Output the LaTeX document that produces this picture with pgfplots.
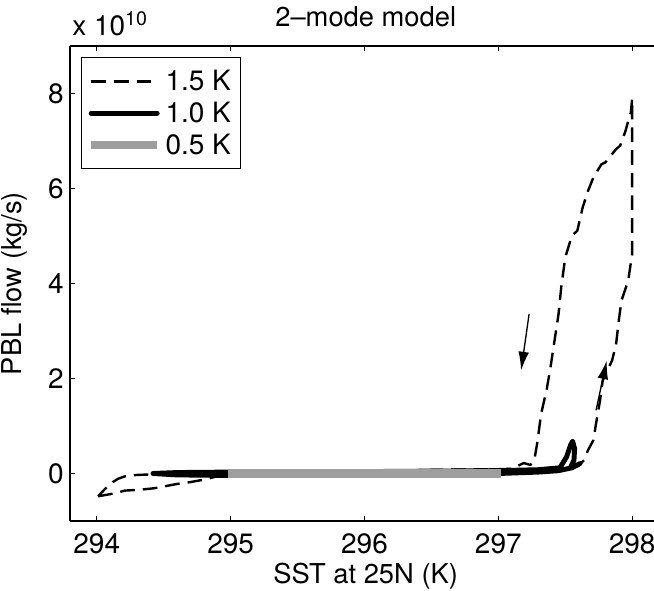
\documentclass[border=0pt]{standalone}
\usepackage{fontspec}
\setmainfont{TeX Gyre Heros}
\usepackage{pgfplots}
\pgfplotsset{compat=1.18}
\usetikzlibrary{arrows.meta}
\begin{document}
\begin{tikzpicture}
\begin{axis}[
  name=ax,
  width=438pt, height=356.25pt, scale only axis,
  xmin=293.8, xmax=298.163, ymin=-1, ymax=9,
  axis x line*=box, axis y line*=left,
  xtick={294,295,296,297,298},
  ytick={0,2,4,6,8},
  scaled ticks=false,
  tick align=inside,
  major tick length=4pt,
  axis line style={line width=0.8pt},
  every tick/.style={black, line width=0.8pt},
  /pgf/number format/assume math mode=true,
  /pgf/number format/1000 sep={},
  tick label style={font=\fontsize{21}{25}\selectfont},
  xticklabel style={anchor=base, inner sep=0pt, yshift=-24.4pt},
  yticklabel style={anchor=east, inner sep=0pt, xshift=-4.6pt},
  every axis y label/.style={at={(axis description cs:0,0.5)}, rotate=90, anchor=center, inner sep=0pt, yshift=41.5pt, font=\fontsize{20.5}{24}\selectfont},
  every axis x label/.style={at={(axis description cs:0.5,0)}, anchor=base, xshift=2.8pt, yshift=-46.5pt, font=\fontsize{20.5}{24}\selectfont},
  xlabel={SST at 25N (K)},
  ylabel={PBL flow (kg/s)},
  legend cell align=left,
  legend image code/.code={\draw[#1] (0pt,0pt) -- (49.5pt,0pt);},
  legend style={at={(axis description cs:0,1)}, anchor=north west, xshift=8.25pt, yshift=-8.25pt,
    draw=black, line width=0.8pt, font=\fontsize{21}{25}\selectfont,
    inner xsep=4pt, inner ysep=7.5pt, row sep=3pt,
    nodes={inner xsep=3pt}},
  clip=false,
]
% 1.5 K (dashed)
\addplot[black, line width=1.8pt, dash pattern=on 11pt off 6pt, line join=round] coordinates {
(294.01,-0.48) (294.13,-0.42) (294.21,-0.36) (294.33,-0.34) (294.43,-0.31) (294.60,-0.22) (294.68,-0.19)
(294.80,-0.13) (294.87,-0.08) (294.93,-0.04) (295.2,-0.02) (295.6,-0.01) (296.0,0.0) (296.5,0.01)
(297.0,0.03) (297.3,0.06) (297.5,0.10) (297.60,0.16) (297.64,0.28) (297.67,0.49) (297.71,0.70)
(297.73,1.05) (297.76,1.54) (297.78,1.96) (297.85,2.38) (297.88,2.73) (297.90,3.22) (297.92,3.64)
(297.97,4.06) (298.0,4.62) (298.0,5.6) (298.0,6.6) (298.0,7.4) (298.0,7.9)
(297.99,7.6) (297.97,7.42) (297.95,7.21) (297.91,6.90) (297.88,6.83) (297.82,6.62) (297.80,6.55)
(297.77,6.51) (297.71,6.23) (297.67,5.95) (297.63,5.60) (297.59,5.11) (297.55,5.01) (297.50,4.55)
(297.47,3.92) (297.45,3.36) (297.42,2.80) (297.39,2.24) (297.36,1.75) (297.32,1.26) (297.29,0.63)
(297.27,0.30) (297.24,0.18) (297.19,0.22) (297.1,0.10) (297.0,0.09) (296.6,0.08) (296.0,0.05)
(295.5,0.03) (295.0,0.02) (294.6,0.0) (294.3,-0.03) (294.21,-0.06) (294.16,-0.11) (294.12,-0.18)
(294.06,-0.33) (294.01,-0.48)
};
\addlegendentry{1.5 K}
% 1.0 K (thick solid)
\addplot[black, line width=3.7pt, line join=round, line cap=round] coordinates {
(297.61,0.21) (297.55,0.12) (297.45,0.06) (297.3,0.03) (297.0,0.0) (296.0,-0.02) (295.0,-0.04)
(294.6,-0.03) (294.42,0.0) (294.6,0.02) (295.0,0.03) (296.0,0.04) (297.0,0.06) (297.3,0.08)
(297.46,0.12) (297.51,0.35) (297.54,0.60) (297.555,0.68) (297.57,0.52) (297.565,0.28) (297.54,0.13)
};
\addlegendentry{1.0 K}
% 0.5 K (thick grey)
\addplot[black!38, line width=6.5pt] coordinates {
(294.98,0.0) (295.5,0.0) (296.0,0.0) (296.5,0.0) (297.02,0.0)
};
\addlegendentry{0.5 K}
% arrows
\addplot[black, line width=1pt, -{Latex[length=14pt,width=8pt]}, forget plot] coordinates {(297.23,3.36) (297.17,2.17)};
\addplot[black, line width=1pt, -{Latex[length=14pt,width=8pt]}, forget plot] coordinates {(297.73,1.33) (297.81,2.38)};
\node[anchor=base, font=\fontsize{20.5}{24}\selectfont] at (axis description cs:0.5,1) [xshift=2.8pt, yshift=15pt] {2–mode model};
\node[anchor=base west, inner sep=0pt, font=\fontsize{21}{25}\selectfont] at (axis description cs:0,1) [xshift=1.5pt, yshift=8pt] {x 10\textsuperscript{10}};
\end{axis}
\pgfresetboundingbox
\useasboundingbox ([shift={(-52.5pt,-51.75pt)}]ax.south west) rectangle ([shift={(438pt,390.75pt)}]ax.south west);
\end{tikzpicture}
\end{document}
